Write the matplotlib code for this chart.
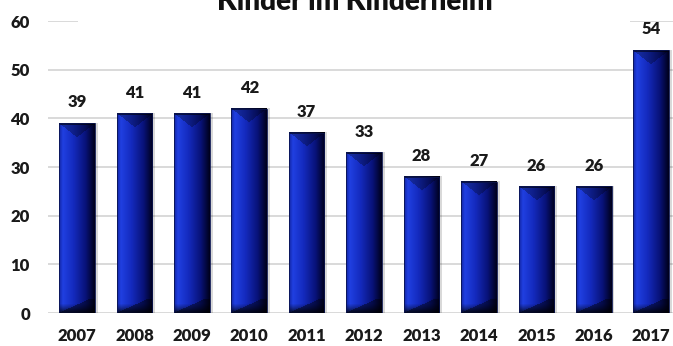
#!/usr/bin/env python3
"""Bar chart: number of children in the children's home per year."""

import numpy as np
import matplotlib
matplotlib.use("Agg")
import matplotlib.pyplot as plt
from matplotlib.patches import Rectangle

years = ["2007", "2008", "2009", "2010", "2011", "2012", "2013", "2014", "2015", "2016", "2017"]
kinder = [39, 41, 41, 42, 37, 33, 28, 27, 26, 26, 54]
title = "Kinder im Kinderheim"
y_ticks = [0, 10, 20, 30, 40, 50, 60]

plt.rcParams["font.family"] = ["Lato", "DejaVu Sans"]
WEIGHT = "heavy"

W, H = 673, 346
fig = plt.figure(figsize=(W / 100, H / 100), dpi=100)
ax = fig.add_axes([48 / W, 1 - 313 / H, (673 - 48) / W, (313 - 21) / H])

px_per_unit = (313 - 21) / 60.0
bar_w = 0.62
bar_px = int(round(bar_w * 57.5))


def bar_image(value):
    """Bevelled blue bar texture, sized in pixels for the given value."""
    ny = max(int(round(value * px_per_unit)), 2)
    nx = bar_px
    u = np.linspace(0, 1, nx)
    stops = [0.0, 0.1, 0.4, 0.75, 1.0]
    cols = np.array([[20, 40, 170], [32, 64, 225], [20, 42, 190], [8, 18, 120], [0, 0, 30]]) / 255.0
    base = np.stack([np.interp(u, stops, cols[:, k]) for k in range(3)], axis=-1)
    img = np.repeat(base[None, :, :], ny, axis=0)

    rows = np.arange(ny)[:, None].astype(float)
    cols_i = np.arange(nx)[None, :].astype(float)
    uu = u[None, :]

    # V-shaped top facet
    depth = 14.0
    vee = rows < depth * (1 - np.abs(2 * uu - 1))
    img = np.where(vee[:, :, None], img * 0.72, img)

    # dark bottom edge with a diagonal facet rising to the right
    s = ny - 1 - rows
    fade = np.clip(s / 9.0, 0.15, 1.0)
    img = img * fade[:, :, None] ** 0.6
    diag = (s < 0.45 * cols_i) & (s < 14)
    img = np.where(diag[:, :, None], img * 0.6, img)

    # thin darker rim along the top
    img[:2] *= 0.45
    return np.clip(img, 0, 1)


for i, v in enumerate(kinder):
    x0 = i - bar_w / 2
    # soft shadow on the right side
    ax.add_patch(Rectangle((x0 + 0.02, 0), bar_w + 0.03, v + 0.1, facecolor="#000000",
                           alpha=0.15, edgecolor="none", zorder=2))
    ax.imshow(bar_image(v), extent=(x0, x0 + bar_w, 0, v), aspect="auto",
              origin="upper", interpolation="bilinear", zorder=3)
    ax.add_patch(Rectangle((x0, 0), bar_w, v, facecolor="none", edgecolor="#0a1450",
                           linewidth=0.6, zorder=4))
    ax.annotate(str(v), (i, v), xytext=(0, 15), textcoords="offset points",
                ha="center", va="center", fontsize=12, fontweight=WEIGHT,
                color="#1a1a1a", zorder=5)

ax.set_xlim(-0.505, 10.38)
ax.set_ylim(0, 60)
ax.set_xticks(range(len(years)))
ax.set_xticklabels(years)
ax.set_yticks(y_ticks)
ax.tick_params(axis="both", length=0, labelsize=12, colors="#1a1a1a")
ax.tick_params(axis="x", pad=11)
ax.tick_params(axis="y", pad=13)
for lab in ax.get_xticklabels() + ax.get_yticklabels():
    lab.set_fontweight(WEIGHT)

ax.grid(axis="y", color="#d9d9d9", linewidth=1.4, zorder=0)
ax.set_axisbelow(True)
for s in ax.spines.values():
    s.set_visible(False)

# title box hides the top gridline behind the title
ax.add_patch(Rectangle((78 / W, 1 - 25 / H), (630 - 78) / W, 25 / H, transform=fig.transFigure,
                       facecolor="white", edgecolor="none", clip_on=False, zorder=6))
fig.text(355 / W, 1 - 10 / H, title, ha="center", va="baseline", fontsize=20,
         fontweight=WEIGHT, color="#111111", zorder=7)

fig.savefig("out.png", dpi=100)
